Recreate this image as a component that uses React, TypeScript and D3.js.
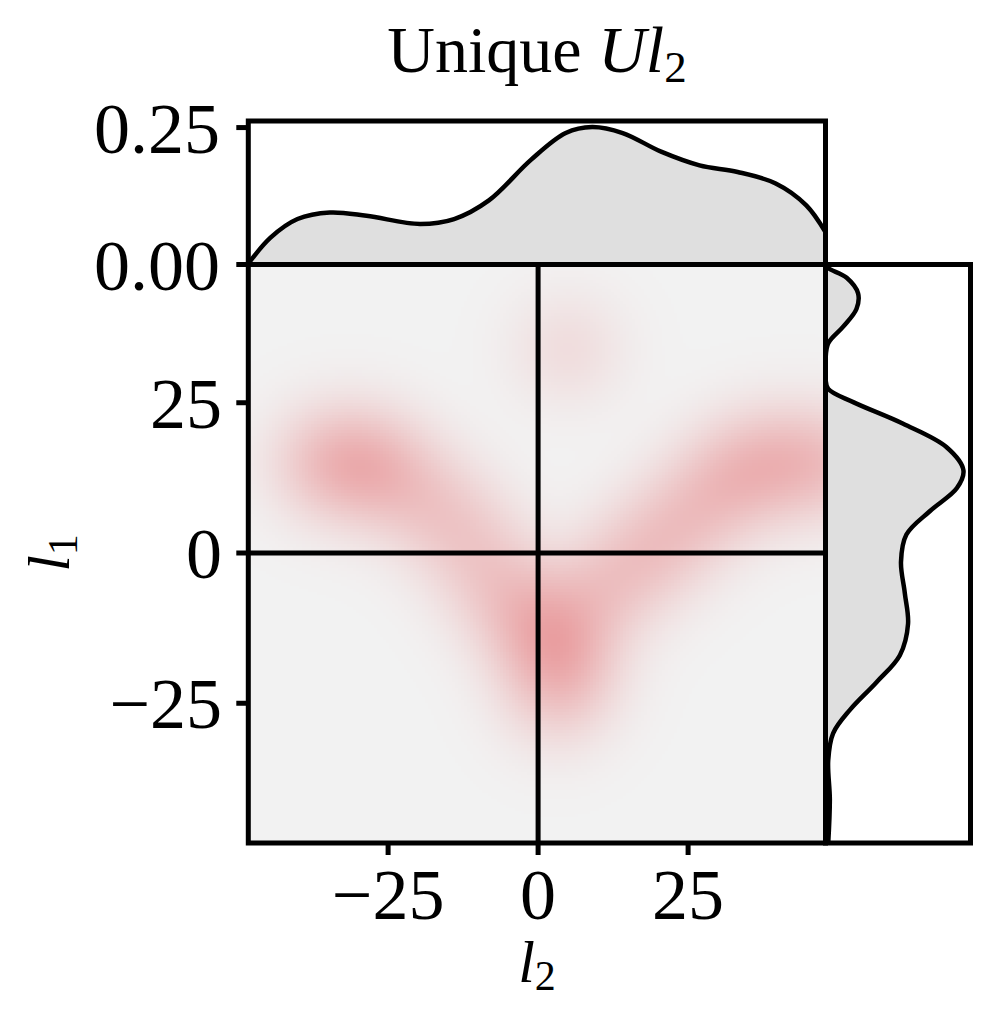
import React, { useMemo } from "react";
import * as d3 from "d3";

// ---------- data ----------
const X_DOMAIN: [number, number] = [-48.3, 47.9];
const Y_DOMAIN: [number, number] = [-48.25, 48.0];
const xTicks = [-25, 0, 25];
const yTicks = [-25, 0, 25];
const topTicks = [0, 0.25];
const TOP_MAX = 0.262;
const RIGHT_MAX = 0.267;

// top marginal density of l2
const topX = [-48.4, -44.6, -40.1, -34.7, -28.6, -19.7, -14.0, -8.2, -1.2, 4.6, 9.0, 14.1, 20.5, 26.9, 33.25, 39.6, 44.7, 47.9];
const topD = [0.0, 0.049, 0.083, 0.095, 0.089, 0.074, 0.083, 0.117, 0.191, 0.24, 0.251, 0.24, 0.206, 0.181, 0.169, 0.148, 0.108, 0.059];

// right marginal density of l1
const rightY = [48.0, 47.4, 45.8, 43.2, 40.6, 37.7, 34.9, 32.0, 29.0, 27.3, 25.1, 21.5, 17.6, 13.75, 10.8, 6.95, 3.07, -1.47, -6.65, -11.8, -17.0, -21.5, -26.1, -30.0, -34.5, -41.0, -48.3];
const rightD = [0.0, 0.005, 0.039, 0.06, 0.057, 0.033, 0.005, 0.0, 0.0, 0.005, 0.051, 0.143, 0.223, 0.254, 0.242, 0.192, 0.149, 0.139, 0.146, 0.152, 0.137, 0.094, 0.045, 0.014, 0.005, 0.008, 0.005];

// joint KDE kernels (l2, l1, weight)
const kdeX = [-36, -30, -25, -19, -14, -10, -6, -1, 3, 4, 3, 8, 13, 18, 23, 28, 33, 38, 44, 50, 5];
const kdeY = [15, 15, 13.5, 9, 5, 0, -6, -11, -15, -20, -25, -9, -4, 0, 4, 9, 13, 15, 15, 15, 34];
const kdeW = [0.85, 1.0, 0.75, 0.55, 0.5, 0.5, 0.6, 0.8, 1.0, 0.8, 0.4, 0.55, 0.6, 0.6, 0.65, 0.65, 0.75, 0.75, 0.75, 0.65, 0.45];
const BANDWIDTH = 6.2;
const GAMMA = 0.8;

const LOW_COLOR = "#f2f2f2";
const HIGH_COLOR = "#e99ea0";
const FILL_COLOR = "#dfdfdf";

// ---------- layout ----------
const L = 248.3, R = 825.5, T = 264.5, B = 843;
const TOP_T = 121;
const RIGHT_R = 970.5;
const CELL = 3;
const SERIF = "'Liberation Serif', 'Times New Roman', serif";
const FS = 72;
const LW = 5;
const CW = 4.5;

const fmtTick = (v: number) => (v < 0 ? "\u2212" + Math.abs(v) : String(v));
const fmtTop = d3.format(".2f");

export default function App() {
  const x = d3.scaleLinear().domain(X_DOMAIN).range([L, R]);
  const y = d3.scaleLinear().domain(Y_DOMAIN).range([B, T]);
  const yTop = d3.scaleLinear().domain([0, TOP_MAX]).range([T, TOP_T]);
  const xRight = d3.scaleLinear().domain([0, RIGHT_MAX]).range([R, RIGHT_R]);

  const cells = useMemo(() => {
    const out: { px: number; py: number; d: number }[] = [];
    const s2 = 2 * BANDWIDTH * BANDWIDTH;
    let dmax = 0;
    for (let py = T; py < B; py += CELL) {
      for (let px = L; px < R; px += CELL) {
        const ux = x.invert(px + CELL / 2);
        const uy = y.invert(py + CELL / 2);
        let d = 0;
        for (let k = 0; k < kdeX.length; k++) {
          const dx = ux - kdeX[k];
          const dy = uy - kdeY[k];
          d += kdeW[k] * Math.exp(-(dx * dx + dy * dy) / s2);
        }
        if (d > dmax) dmax = d;
        out.push({ px, py, d });
      }
    }
    return out.map((c) => ({ ...c, t: Math.pow(c.d / dmax, GAMMA) }));
  }, []);

  const color = d3.scaleLinear<string>().domain([0, 1]).range([LOW_COLOR, HIGH_COLOR]).interpolate(d3.interpolateRgb).clamp(true);

  const topPts = topX.map((v, i) => [v, topD[i]] as [number, number]);
  const topLine = d3.line<[number, number]>().x((d) => x(d[0])).y((d) => yTop(d[1])).curve(d3.curveCatmullRom.alpha(0.5));
  const topArea = d3.area<[number, number]>().x((d) => x(d[0])).y0(yTop(0)).y1((d) => yTop(d[1])).curve(d3.curveCatmullRom.alpha(0.5));

  const rightPts = rightY.map((v, i) => [v, rightD[i]] as [number, number]);
  const rightLine = d3.line<[number, number]>().y((d) => y(d[0])).x((d) => xRight(d[1])).curve(d3.curveCatmullRom.alpha(0.5));
  const rightArea = d3.area<[number, number]>().y((d) => y(d[0])).x0(xRight(0)).x1((d) => xRight(d[1])).curve(d3.curveCatmullRom.alpha(0.5));

  const lineStyle = { stroke: "#000", strokeWidth: LW, fill: "none" } as React.CSSProperties;
  const curveStyle = { stroke: "#000", strokeWidth: CW, fill: "none", strokeLinejoin: "round" } as React.CSSProperties;

  return (
    <svg width={995} height={1016} style={{ position: "absolute", left: 0, top: 0, background: "#fff" }} fontFamily={SERIF}>
      <defs>
        <clipPath id="clipMain"><rect x={L} y={T} width={R - L} height={B - T} /></clipPath>
        <clipPath id="clipTop"><rect x={L} y={TOP_T} width={R - L} height={T - TOP_T} /></clipPath>
        <clipPath id="clipRight"><rect x={R} y={T} width={RIGHT_R - R} height={B - T} /></clipPath>
      </defs>
      <rect x={0} y={0} width={995} height={1016} fill="#fff" />

      {/* heatmap */}
      <g clipPath="url(#clipMain)" shapeRendering="crispEdges">
        {cells.map((c, i) => (
          <rect key={i} x={c.px} y={c.py} width={CELL + 0.5} height={CELL + 0.5} fill={color(c.t)} />
        ))}
      </g>
      {/* zero lines */}
      <line x1={x(0)} x2={x(0)} y1={T} y2={B} style={lineStyle} />
      <line x1={L} x2={R} y1={y(0)} y2={y(0)} style={lineStyle} />

      {/* top marginal */}
      <g clipPath="url(#clipTop)">
        <path d={topArea(topPts) || ""} fill={FILL_COLOR} />
        <path d={topLine(topPts) || ""} style={curveStyle} />
      </g>
      {/* right marginal */}
      <g clipPath="url(#clipRight)">
        <path d={rightArea(rightPts) || ""} fill={FILL_COLOR} />
        <path d={rightLine(rightPts) || ""} style={curveStyle} />
      </g>

      {/* frames */}
      <rect x={L} y={TOP_T} width={R - L} height={T - TOP_T} style={lineStyle} />
      <rect x={R} y={T} width={RIGHT_R - R} height={B - T} style={lineStyle} />
      <rect x={L} y={T} width={R - L} height={B - T} style={lineStyle} />

      {/* x ticks */}
      {xTicks.map((t) => (
        <g key={"xt" + t}>
          <line x1={x(t)} x2={x(t)} y1={B} y2={B + 12} style={lineStyle} />
          <text x={x(t)} y={919} textAnchor="middle" fontSize={FS}>{fmtTick(t)}</text>
        </g>
      ))}
      {/* y ticks */}
      {yTicks.map((t) => (
        <g key={"yt" + t}>
          <line x1={L - 12} x2={L} y1={y(t)} y2={y(t)} style={lineStyle} />
          <text x={222} y={y(t) + 25} textAnchor="end" fontSize={FS}>{fmtTick(t)}</text>
        </g>
      ))}
      {/* top marginal ticks */}
      {topTicks.map((t) => (
        <g key={"tt" + t}>
          <line x1={L - 12} x2={L} y1={yTop(t)} y2={yTop(t)} style={lineStyle} />
          <text x={220} y={yTop(t) + 25} textAnchor="end" fontSize={FS}>{fmtTop(t)}</text>
        </g>
      ))}

      {/* axis labels */}
      <text x={537} y={982} textAnchor="middle" fontSize={60}>
        <tspan fontStyle="italic">l</tspan>
        <tspan fontSize={42} dy={8}>2</tspan>
      </text>
      <text transform="translate(69,553) rotate(-90)" textAnchor="middle" fontSize={60}>
        <tspan fontStyle="italic">l</tspan>
        <tspan fontSize={42} dy={8}>1</tspan>
      </text>

      {/* title */}
      <text x={537} y={72} textAnchor="middle" fontSize={66}>
        <tspan>Unique </tspan>
        <tspan fontStyle="italic">Ul</tspan>
        <tspan fontSize={45} dy={10}>2</tspan>
      </text>
    </svg>
  );
}
